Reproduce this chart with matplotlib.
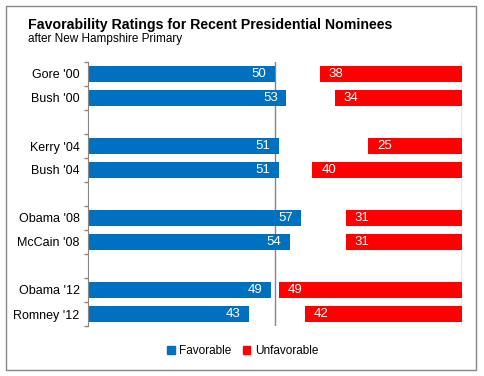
import matplotlib.pyplot as plt
from matplotlib.patches import Rectangle, Patch

plt.rcParams['font.family'] = ['Liberation Sans', 'DejaVu Sans']

# data
names = ["Gore '00", "Bush '00", "Kerry '04", "Bush '04",
         "Obama '08", "McCain '08", "Obama '12", "Romney '12"]
favorable = [50, 53, 51, 51, 57, 54, 49, 43]
unfavorable = [38, 34, 25, 40, 31, 31, 49, 42]

blue = '#0070C0'
red = '#FF0000'
grey = '#868686'

W, H = 484, 376
fig = plt.figure(figsize=(W / 100, H / 100), dpi=100)

# outer chart border
fig.patches.append(Rectangle((6 / W, 1 - 370 / H), 470 / W, 364 / H,
                             transform=fig.transFigure, fill=False,
                             edgecolor=grey, lw=1.0))

ax = fig.add_axes([88 / W, 1 - 326 / H, (461.7 - 88) / W, 264 / H])

# two candidates per election, empty slot between elections
pos = [i + i // 2 for i in range(len(names))]
nslots = pos[-1] + 1

ax.barh(pos, favorable, height=0.64, color=blue, label='Favorable')
ax.barh(pos, unfavorable, left=[100 - u for u in unfavorable], height=0.64,
        color=red, label='Unfavorable')

for p, f, u in zip(pos, favorable, unfavorable):
    ax.text(f - 2.2, p, str(f), color='white', fontsize=9.5,
            ha='right', va='center')
    ax.text(100 - u + 2.4, p, str(u), color='white', fontsize=9.5,
            ha='left', va='center')

ax.axvline(50, color=grey, lw=1, zorder=0)
ax.axvline(100, color=grey, lw=1, zorder=0)

ax.set_xlim(0, 100)
ax.set_ylim(nslots - 0.5, -0.5)
ax.set_xticks([])
ax.set_yticks(pos, names, fontsize=9)
ax.set_yticks([i - 0.5 for i in range(nslots + 1)], minor=True)
ax.tick_params(axis='y', which='major', length=0, pad=6)
ax.tick_params(axis='y', which='minor', length=3, color=grey, width=1)
for s in ['top', 'right', 'bottom']:
    ax.spines[s].set_visible(False)
ax.spines['left'].set_color(grey)

fig.text(28 / W, 1 - 29.5 / H,
         'Favorability Ratings for Recent Presidential Nominees',
         fontsize=10.2, fontweight='bold', va='baseline')
fig.text(28 / W, 1 - 42 / H, 'after New Hampshire Primary',
         fontsize=8.5, va='baseline')

handles = [Patch(color=blue), Patch(color=red)]
fig.legend(handles, ['Favorable', 'Unfavorable'], loc='center',
           bbox_to_anchor=(243 / W, 1 - 351 / H), ncol=2, frameon=False,
           fontsize=8.5, handlelength=0.6, handleheight=0.6,
           handletextpad=0.4, columnspacing=1.0)

fig.savefig('out.png', dpi=100)
